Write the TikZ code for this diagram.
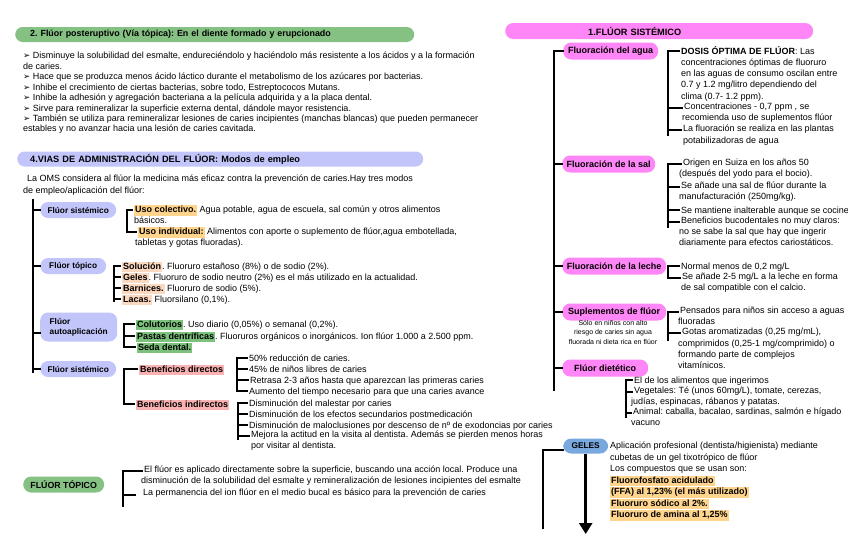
\documentclass[tikz,border=0pt]{standalone}
\usepackage{fontspec}
\setmainfont{Liberation Sans}
\newfontfamily\symfont{DejaVu Sans}
\usepackage{xcolor}
\usetikzlibrary{arrows.meta, positioning, calc}
\frenchspacing

\definecolor{HeadGreen}{RGB}{134,193,132}
\definecolor{HeadPink}{RGB}{255,134,246}
\definecolor{PillLilac}{RGB}{194,197,250}
\definecolor{PillBlue}{RGB}{120,168,221}
\definecolor{HlOrange}{RGB}{255,212,140}
\definecolor{HlPeach}{RGB}{251,216,192}
\definecolor{HlGreen}{RGB}{124,193,124}
\definecolor{HlPink}{RGB}{250,178,178}

\newcommand\hlt[2]{{\setlength{\fboxsep}{1pt}\colorbox{#1}{\rule[-2pt]{0pt}{7.5pt}#2}}}
\newcommand\bul{{\symfont\fontsize{8.6}{10}\selectfont ➢}\hspace{2.5pt}}

\begin{document}
\begin{tikzpicture}[x=1pt, y=-1pt,
    txt/.style={anchor=north west, inner sep=0pt, align=left,
        font=\fontsize{9}{11.2}\selectfont,
        execute at begin node={\lineskiplimit=-20pt\rule{0pt}{8pt}}},
    tinytxt/.style={anchor=north, inner sep=0pt, align=center,
        font=\fontsize{7}{9.5}\selectfont},
    pill/.style={rounded corners=8pt, minimum height=16pt, inner sep=1pt,
        anchor=west, font=\fontsize{8.3}{10}\selectfont\bfseries},
    lpill/.style={pill, fill=PillLilac},
    rpill/.style={pill, fill=HeadPink, minimum height=17pt,
        font=\fontsize{9}{10}\selectfont\bfseries},
    bar/.style={rounded corners=7.5pt, minimum height=15pt, inner sep=0pt,
        anchor=west, align=left, font=\fontsize{8.9}{10}\selectfont\bfseries},
    brk/.style={line width=2.6pt, line cap=rect},
    arr/.style={line width=2.6pt, -{Triangle[width=13pt,length=11pt]}}
]

\useasboundingbox (0,0) rectangle (848,549);

% vertical lines of the brackets
\coordinate (vL)  at (33,0);
\coordinate (vS1) at (127,0);
\coordinate (vTp) at (114,0);
\coordinate (vAu) at (124,0);
\coordinate (vS2) at (124,0);
\coordinate (vBd) at (237,0);
\coordinate (vBi) at (238,0);
\coordinate (vTo) at (123,0);
\coordinate (vR)  at (554,0);
\coordinate (vW)  at (668,0);
\coordinate (vD)  at (626,0);
\coordinate (gEnd) at (543,528);
\coordinate (aEnd) at (0,534);

% 2. fluor posteruptivo
\node[bar, fill=HeadGreen, text width=399pt] (postT) at (15,34.5)
    {\hspace*{15pt}2. Flúor posteruptivo (Vía tópica): En el diente formado y erupcionado};

\node[txt, font=\fontsize{9}{10.45}\selectfont] (post) at (23,52) {%
\bul Disminuye la solubilidad del esmalte, endureciéndolo y haciéndolo más resistente a los ácidos y a la formación\\
de caries.\\
\bul Hace que se produzca menos ácido láctico durante el metabolismo de los azúcares por bacterias.\\
\bul Inhibe el crecimiento de ciertas bacterias, sobre todo, Estreptococos Mutans.\\
\bul Inhibe la adhesión y agregación bacteriana a la película adquirida y a la placa dental.\\
\bul Sirve para remineralizar la superficie externa dental, dándole mayor resistencia.\\
\bul También se utiliza para remineralizar lesiones de caries incipientes (manchas blancas) que pueden permanecer\\
estables y no avanzar hacia una lesión de caries cavitada.};

% 4. vias de administracion
\node[bar, fill=PillLilac, text width=406pt, font=\fontsize{9.2}{10}\selectfont\bfseries] (viasT) at (17,159)
    {\hspace*{13pt}4.VIAS DE ADMINISTRACIÓN DEL FLÚOR: Modos de empleo};

\node[txt] (oms) at (23,175)
    {\hspace*{4pt}La OMS considera al flúor la medicina más eficaz contra la prevención de caries.Hay tres modos\\
     de empleo/aplicación del flúor:};

\node[lpill, minimum width=76pt] (ls1) at (40,210) {Flúor sistémico};
\node[lpill, minimum width=66pt] (ls2) at (40,266) {Flúor tópico};
\node[lpill, minimum width=77pt, minimum height=29pt, align=left] (ls3) at (40,327)
    {Flúor\\autoaplicación};
\node[lpill, minimum width=76pt] (ls4) at (40,369) {Flúor sistémico};

\node[txt] (uc) at (134,205)
    {\hlt{HlOrange}{\bfseries Uso colectivo.} Agua potable, agua de escuela, sal común y otros alimentos\\
     básicos.};
\node[txt] (ui) at (138,227)
    {\hlt{HlOrange}{\bfseries Uso individual:} Alimentos con aporte o suplemento de flúor,agua embotellada,\\
     \hspace*{-3pt}tabletas y gotas fluoradas).};

\node[txt] (t1) at (122,261) {\hlt{HlPeach}{\bfseries Solución}. Fluoruro estañoso (8\%) o de sodio (2\%).};
\node[txt] (t2) at (122,272) {\hlt{HlPeach}{\bfseries Geles}. Fluoruro de sodio neutro (2\%) es el más utilizado en la actualidad.};
\node[txt] (t3) at (122,283) {\hlt{HlPeach}{\bfseries Barnices.} Fluoruro de sodio (5\%).};
\node[txt] (t4) at (122,294) {\hlt{HlPeach}{\bfseries Lacas.} Fluorsilano (0,1\%).};

\node[txt] (a1) at (136,319) {\hlt{HlGreen}{\bfseries Colutorios}. Uso diario (0,05\%) o semanal (0,2\%).};
\node[txt] (a2) at (136,331) {\hlt{HlGreen}{\bfseries Pastas dentríficas}. Fluoruros orgánicos o inorgánicos. Ion flúor 1.000 a 2.500 ppm.};
\node[txt] (a3) at (137,342) {\hlt{HlGreen}{\bfseries Seda dental.}};

\node[txt] (bd) at (139,364) {\hlt{HlPink}{\bfseries Beneficios directos}};
\node[txt] (bi) at (136,399) {\hlt{HlPink}{\bfseries Beneficios indirectos}};

\node[txt] (bd1) at (249,353) {50\% reducción de caries.};
\node[txt] (bd2) at (249,364) {45\% de niños libres de caries};
\node[txt] (bd3) at (250,375) {Retrasa 2-3 años hasta que aparezcan las primeras caries};
\node[txt] (bd4) at (249,386) {Aumento del tiempo necesario para que una caries avance};

\node[txt] (bi1) at (249,398) {Disminución del malestar por caries};
\node[txt] (bi2) at (249,409) {Disminución de los efectos secundarios postmedicación};
\node[txt] (bi3) at (249,420) {Disminución de maloclusiones por descenso de nº de exodoncias por caries};
\node[txt, font=\fontsize{9}{11}\selectfont] (bi4) at (251,431)
    {Mejora la actitud en la visita al dentista. Además se pierden menos horas\\
     por visitar al dentista.};

% fluor topico
\node[pill, fill=HeadGreen, minimum width=81pt, font=\fontsize{8.8}{10}\selectfont\bfseries] (topT) at (23,484.5)
    {FLÚOR TÓPICO};

\node[txt, font=\fontsize{9}{10.5}\selectfont] (tp1) at (144,466)
    {El flúor es aplicado directamente sobre la superficie, buscando una acción local. Produce una\\
     \hspace*{-3pt}disminución de la solubilidad del esmalte y remineralización de lesiones incipientes del esmalte};
\node[txt] (tp2) at (143,487) {La permanencia del ion flúor en el medio bucal es básico para la prevención de caries};

% 1. fluor sistemico
\node[bar, fill=HeadPink, text width=308pt, minimum height=16pt, rounded corners=8pt,
      font=\fontsize{9.2}{10}\selectfont\bfseries] (sistT) at (505,31)
    {\hspace*{83pt}1.FLÚOR SISTÉMICO};

\node[rpill, minimum width=95pt]  (ra) at (563,51)  {Fluoración del agua};
\node[rpill, minimum width=93pt]  (rs) at (562,164) {Fluoración de la sal};
\node[rpill, minimum width=104pt] (rl) at (562,266) {Fluoración de la leche};
\node[rpill, minimum width=104pt] (rp) at (562,312) {Suplementos de flúor};
\node[rpill, minimum width=86pt]  (rd) at (562,368) {Flúor dietético\hspace{16pt}};

\node[tinytxt] (rpNote) at (613,320)
    {Sólo en niños con alto\\riesgo de caries sin agua\\fluorada ni dieta rica en flúor};

\node[txt, font=\fontsize{9}{11.25}\selectfont] (w1) at (681,46)
    {{\bfseries DOSIS ÓPTIMA DE FLÚOR}: Las\\
     concentraciones óptimas de fluoruro\\
     en las aguas de consumo oscilan entre\\
     0.7 y 1.2 mg/litro dependiendo del\\
     clima (0.7- 1.2 ppm).};
\node[txt] (w2) at (684,103) {Concentraciones - 0,7 ppm , se\\\hspace*{-2pt}recomienda uso de suplementos flúor};
\node[txt] (w3) at (683,125) {La fluoración se realiza en las plantas\\potabilizadoras de agua};

\node[txt, font=\fontsize{9}{11}\selectfont] (s1) at (683,159) {Origen en Suiza en los años 50\\\hspace*{-4pt}(después del yodo para el bocio).};
\node[txt, font=\fontsize{9}{11}\selectfont] (s2) at (681,182) {Se añade una sal de flúor durante la\\\hspace*{-2pt}manufacturación (250mg/kg).};
\node[txt] (s3) at (681,205) {Se mantiene inalterable aunque se cocine};
\node[txt, font=\fontsize{9}{11}\selectfont] (s4) at (681,217)
    {Beneficios bucodentales no muy claros:\\
     \hspace*{-2pt}no se sabe la sal que hay que ingerir\\
     \hspace*{-2pt}diariamente para efectos cariostáticos.};

\node[txt] (l1) at (681,261) {Normal menos de 0,2 mg/L};
\node[txt, font=\fontsize{9}{11}\selectfont] (l2) at (682,273) {Se añade 2-5 mg/L a la leche en forma\\\hspace*{-1pt}de sal compatible con el calcio.};

\node[txt, font=\fontsize{9}{10.5}\selectfont] (p1) at (680,307) {Pensados para niños sin acceso a aguas\\\hspace*{-2pt}fluoradas};
\node[txt, font=\fontsize{9}{11.3}\selectfont] (p2) at (682,328)
    {Gotas aromatizadas (0,25 mg/mL),\\
     \hspace*{-4pt}comprimidos (0,25-1 mg/comprimido) o\\
     \hspace*{-4pt}formando parte de complejos\\
     \hspace*{-4pt}vitamínicos.};

\node[txt] (d1) at (634,375) {El de los alimentos que ingerimos};
\node[txt, font=\fontsize{9}{11}\selectfont] (d2) at (634,387) {Vegetales: Té (unos 60mg/L), tomate, cerezas,\\\hspace*{-3pt}judías, espinacas, rábanos y patatas.};
\node[txt, font=\fontsize{9}{11}\selectfont] (d3) at (633,408) {Animal: caballa, bacalao, sardinas, salmón e hígado\\\hspace*{-2pt}vacuno};

% geles
\node[pill, fill=PillBlue, minimum width=45pt, minimum height=15pt] (geles) at (563,446) {GELES};
\node[txt, font=\fontsize{9}{11.5}\selectfont] (g1) at (610,442)
    {Aplicación profesional (dentista/higienista) mediante\\
     cubetas de un gel tixotrópico de flúor\\
     Los compuestos que se usan son:\\
     \hlt{HlOrange}{\bfseries Fluorofosfato acidulado}\\
     \hlt{HlOrange}{\bfseries (FFA) al 1,23\% (el más utilizado)}\\
     \hlt{HlOrange}{\bfseries Fluoruro sódico al 2\%.}\\
     \hlt{HlOrange}{\bfseries Fluoruro de amina al 1,25\%}};

% tick points of the items
\foreach \n in {uc,ui,t1,t2,t3,t4,a1,a2,a3,bd,bi,bd1,bd2,bd3,bd4,bi1,bi2,bi3,bi4,
                tp1,tp2,w1,w2,w3,s1,s2,s3,s4,l1,l2,p1,p2,d1,d2,d3}
    \coordinate (\n-t) at ([yshift=-5pt]\n.north west);

% trunks
\draw[brk] ($(ls1.west -| vL)+(0,-10)$) -- ($(ls4.west -| vL)+(0,3)$);
\foreach \p in {ls1,ls2,ls4}
    \draw[brk] (\p.west -| vL) -- (\p.west);
\draw[brk] ($(ls3.west -| vL)+(0,6)$) -- ($(ls3.west)+(0,6)$);

\draw[brk] (ra.west -| vR) -- ($(rd.west -| vR)+(0,22)$);
\foreach \p in {ra,rs,rl,rp,rd}
    \draw[brk] (\p.west -| vR) -- (\p.west);

% brackets
\draw[brk] (uc-t -| vS1) -- (ui-t -| vS1);
\draw[brk] (t1-t -| vTp) -- ($(t4-t -| vTp)+(0,2)$);
\draw[brk] (a1-t -| vAu) -- (a3-t -| vAu);
\draw[brk] (bd-t -| vS2) -- (bi-t -| vS2);
\draw[brk] (bd1-t -| vBd) -- (bd4-t -| vBd);
\draw[brk] (bi1-t -| vBi) -- ($(bi4-t -| vBi)+(0,3)$);
\draw[brk] (tp1-t -| vTo) -- ($(tp2-t -| vTo)+(0,14)$);
\draw[brk] (w1-t -| vW) -- ($(w3-t -| vW)+(0,5)$);
\draw[brk] (s1-t -| vW) -- ($(s4-t -| vW)+(0,5)$);
\draw[brk] (l1-t -| vW) -- (l2-t -| vW);
\draw[brk] (p1-t -| vW) -- ($(p2-t -| vW)+(0,7)$);
\draw[brk] (d1-t -| vD) -- ($(d3-t -| vD)+(0,4)$);

\foreach \n/\v in {uc/vS1,ui/vS1,t1/vTp,t2/vTp,t3/vTp,t4/vTp,a1/vAu,a2/vAu,a3/vAu,
                   bd/vS2,bi/vS2,bd1/vBd,bd2/vBd,bd3/vBd,bd4/vBd,
                   bi1/vBi,bi2/vBi,bi3/vBi,bi4/vBi,tp1/vTo,
                   w1/vW,w2/vW,w3/vW,s1/vW,s2/vW,s3/vW,s4/vW,l1/vW,l2/vW,p1/vW,p2/vW,
                   d1/vD,d2/vD,d3/vD}
    \draw[brk] (\n-t -| \v) -- ([xshift=-2.5pt]\n-t);
\draw[brk] ($(tp2-t -| vTo)+(0,3)$) -- ($(tp2-t)+(-8,3)$);

% geles connectors
\draw[brk] ($(geles.west)+(0,4)$) -| (gEnd);
\draw[arr] (geles.south) -- (geles.south |- aEnd);

\end{tikzpicture}
\end{document}
